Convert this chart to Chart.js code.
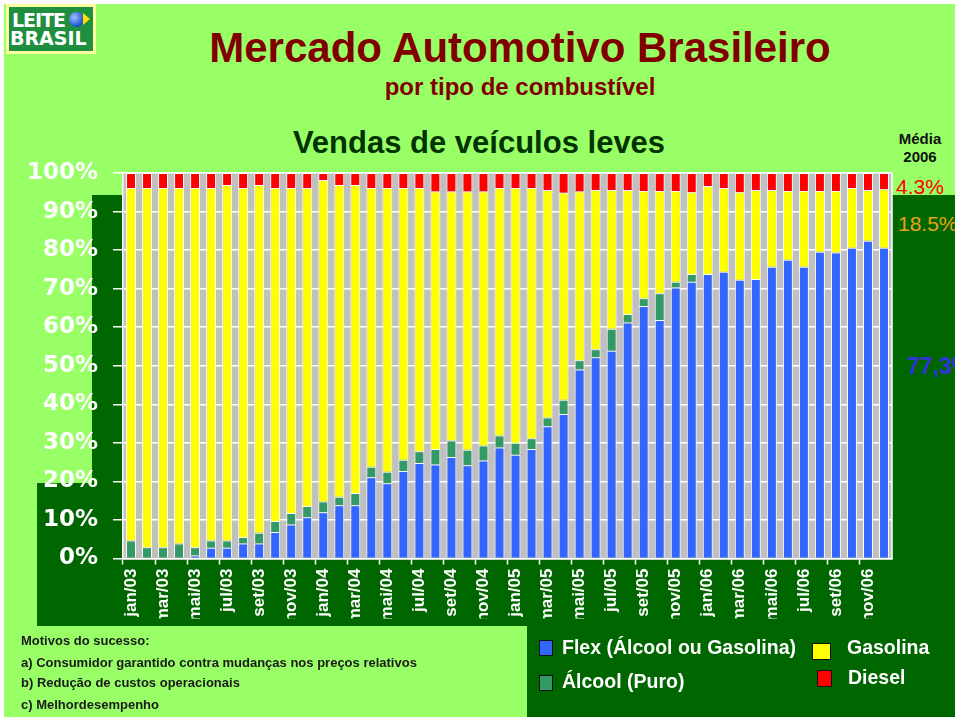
<!DOCTYPE html>
<html><head><meta charset="utf-8">
<script src="https://cdn.jsdelivr.net/npm/chart.js@4/dist/chart.umd.min.js"></script>
<style>
html,body{margin:0;padding:0;background:#fff;}
#page{position:relative;width:959px;height:721px;overflow:hidden;background:#fff;font-family:"Liberation Sans",Arial,sans-serif;}
#clip{position:absolute;left:0;top:0;width:955px;height:717px;overflow:hidden;}
.a{position:absolute;white-space:nowrap;line-height:1;}
.c{transform:translateX(-50%);}
.sq{position:absolute;border:1px solid #111;box-sizing:border-box;}
.logo{font-family:"DejaVu Sans",Verdana,sans-serif;font-weight:bold;font-size:19px;color:#fff;}
canvas{position:absolute;left:0;top:0;}
</style></head>
<body>
<div id="page"><div id="clip">
  <div class="a" style="left:4px;top:4px;width:951px;height:713px;background:#99ff66"></div>
  <div class="a" style="left:92px;top:195px;width:863px;height:431px;background:#006600"></div>
  <div class="a" style="left:37px;top:483px;width:55px;height:143px;background:#006600"></div>
  <div class="a" style="left:527px;top:626px;width:428px;height:91px;background:#006600"></div>

  <div class="a" style="left:6px;top:4px;width:90px;height:50px;background:#1f8f3f;border:3px solid #ffffa0;box-sizing:border-box">
    <div class="a logo" style="left:3px;top:4px;letter-spacing:-1px">LEITE</div>
    <div class="a" style="left:60px;top:5px;width:15px;height:15px;border-radius:50%;background:radial-gradient(circle at 35% 35%,#9cc0ff,#1a4fd0 70%)"></div>
    <div class="a" style="left:74px;top:6px;width:0;height:0;border-top:6px solid transparent;border-bottom:6px solid transparent;border-left:7px solid #ffe000"></div>
    <div class="a logo" style="left:1px;top:22px">BRASIL</div>
  </div>

  <div class="a c" style="left:520px;top:27px;font-size:42px;font-weight:bold;color:#800000">Mercado Automotivo Brasileiro</div>
  <div class="a c" style="left:520px;top:75px;font-size:24px;font-weight:bold;color:#800000">por tipo de combustível</div>
  <div class="a c" style="left:479px;top:127px;font-size:31px;font-weight:bold;color:#003300">Vendas de veículos leves</div>

  <div class="a c" style="left:920px;top:131px;font-size:15px;font-weight:bold;color:#111">Média</div>
  <div class="a c" style="left:920px;top:149px;font-size:15px;font-weight:bold;color:#111">2006</div>
  <div class="a c" style="left:920px;top:176px;font-size:21px;color:#ff0000">4.3%</div>
  <div class="a" style="left:898px;top:213px;font-size:21px;color:#e8a317">18.5%</div>
  <div class="a" style="left:907px;top:355px;font-size:23px;font-weight:bold;color:#3333dd">77,3%</div>

  <canvas id="chart" width="959" height="721"></canvas>

  <div class="a" style="left:21px;top:634px;font-size:13px;font-weight:bold;color:#1a1a1a">Motivos do sucesso:</div>
  <div class="a" style="left:21px;top:656px;font-size:13px;font-weight:bold;color:#1a1a1a">a) Consumidor garantido contra mudanças nos preços relativos</div>
  <div class="a" style="left:21px;top:676px;font-size:13px;font-weight:bold;color:#1a1a1a">b) Redução de custos operacionais</div>
  <div class="a" style="left:21px;top:698px;font-size:13px;font-weight:bold;color:#1a1a1a">c) Melhordesempenho</div>

  <div class="sq" style="left:539px;top:640px;width:14px;height:16px;background:#3366ff"></div>
  <div class="a" style="left:562px;top:638px;font-size:19.5px;font-weight:bold;color:#fff">Flex (Álcool ou Gasolina)</div>
  <div class="sq" style="left:539px;top:675px;width:14px;height:16px;background:#339966"></div>
  <div class="a" style="left:562px;top:672px;font-size:19.5px;font-weight:bold;color:#fff">Álcool (Puro)</div>
  <div class="sq" style="left:812px;top:643px;width:19px;height:17px;background:#ffff00"></div>
  <div class="a" style="left:847px;top:638px;font-size:19.5px;font-weight:bold;color:#fff">Gasolina</div>
  <div class="sq" style="left:817px;top:670px;width:15px;height:17px;background:#ff0000"></div>
  <div class="a" style="left:848px;top:668px;font-size:19.5px;font-weight:bold;color:#fff">Diesel</div>
</div></div>
<script>
const months = ['jan/03','fev/03','mar/03','abr/03','mai/03','jun/03','jul/03','ago/03','set/03','out/03','nov/03','dez/03',
  'jan/04','fev/04','mar/04','abr/04','mai/04','jun/04','jul/04','ago/04','set/04','out/04','nov/04','dez/04',
  'jan/05','fev/05','mar/05','abr/05','mai/05','jun/05','jul/05','ago/05','set/05','out/05','nov/05','dez/05',
  'jan/06','fev/06','mar/06','abr/06','mai/06','jun/06','jul/06','ago/06','set/06','out/06','nov/06','dez/06'];
const flex = [0,0,0,0,0.8,2.8,2.8,3.9,3.9,6.9,8.8,10.7,
  12.0,13.8,13.8,21.1,19.5,22.7,24.8,24.4,26.3,24.2,25.4,28.8,
  26.9,28.4,34.3,37.5,49.0,52.2,53.9,61.2,65.5,61.9,70.3,71.8,
  73.8,74.4,72.3,72.5,75.7,77.5,75.7,79.6,79.4,80.6,82.4,80.6];
const alcool = [4.7,2.9,2.9,3.9,2.1,1.9,1.9,1.7,2.8,2.8,3.0,2.9,
  2.8,2.2,3.2,2.7,3.0,2.9,3.0,4.0,4.3,4.0,3.9,3.1,
  3.1,2.8,2.3,3.7,2.4,2.1,5.7,2.2,2.0,6.9,1.5,2.0,
  0,0,0,0,0,0,0,0,0,0,0,0];
const gasolina = [91.4,93.2,93.2,92.2,93.2,91.4,92.2,90.5,90.2,86.4,84.3,82.5,
  83.4,80.9,79.9,72.3,73.6,70.5,68.3,66.8,64.6,67.0,65.9,64.2,
  66.1,64.9,59.0,53.7,43.8,41.3,36.0,32.2,27.8,26.5,23.5,21.2,
  22.8,21.7,22.7,23.1,19.9,17.8,19.6,15.7,15.9,15.5,13.2,15.2];
const diesel = [3.9,3.9,3.9,3.9,3.9,3.9,3.1,3.9,3.1,3.9,3.9,3.9,
  1.8,3.1,3.1,3.9,3.9,3.9,3.9,4.8,4.8,4.8,4.8,3.9,
  3.9,3.9,4.4,5.1,4.8,4.4,4.4,4.4,4.7,4.7,4.7,5.0,
  3.4,3.9,5.0,4.4,4.4,4.7,4.7,4.7,4.7,3.9,4.4,4.2];
const yTicks = [0,10,20,30,40,50,60,70,80,90,100];

const plotBg = {
  id:'plotBg',
  beforeDraw(chart){
    const {ctx, chartArea:a} = chart;
    ctx.save(); ctx.fillStyle='#c0c0c0';
    ctx.fillRect(a.left,a.top,a.right-a.left,a.bottom-a.top); ctx.restore();
  },
  beforeDatasetsDraw(chart){
    const {ctx, chartArea:a} = chart;
    ctx.save(); ctx.strokeStyle='#fff'; ctx.lineWidth=1.5;
    ctx.beginPath(); ctx.moveTo(a.right,a.top); ctx.lineTo(a.right,a.bottom); ctx.stroke(); ctx.restore();
  }
};

const ds = (label, data, color) => ({label, data, backgroundColor:color, borderColor:'#ffffff', borderWidth:1,
  barPercentage:0.62, categoryPercentage:1.0});

new Chart(document.getElementById('chart'), {
  type:'bar',
  data:{labels:months, datasets:[
    ds('Flex (Álcool ou Gasolina)', flex, '#3366ff'),
    ds('Álcool (Puro)', alcool, '#339966'),
    ds('Gasolina', gasolina, '#ffff00'),
    ds('Diesel', diesel, '#ff0000')
  ]},
  options:{
    responsive:false, animation:false,
    layout:{padding:{left:0, top:173, right:67, bottom:102.5}},
    plugins:{legend:{display:false}, tooltip:{enabled:false}},
    scales:{
      x:{stacked:true, offset:true,
        grid:{display:true, drawOnChartArea:false, offset:true, tickLength:6, tickWidth:1.5,
          tickColor:(c)=> (c.index%2===0 ? '#ffffff' : 'rgba(0,0,0,0)')},
        border:{display:true, color:'#ffffff', width:1.5},
        ticks:{autoSkip:false, maxRotation:90, minRotation:90, color:'#ffffff', padding:4,
          font:{family:'"Liberation Sans", Arial, sans-serif', weight:'bold', size:17},
          callback:(v,i)=> (i%2===0 ? months[i] : '')},
        afterFit:(s)=>{ s.height = 60; }
      },
      y:{stacked:true, min:0, max:100,
        afterBuildTicks:(s)=>{ s.ticks = yTicks.map(v=>({value:v})); },
        ticks:{color:'#ffffff', padding:15, callback:(v)=> v+'%',
          font:{family:'"DejaVu Sans", Verdana, sans-serif', weight:'bold', size:23}},
        grid:{color:'#ffffff', lineWidth:1.5, tickLength:10, tickColor:'#ffffff'},
        border:{display:true, color:'#ffffff', width:1.5},
        afterFit:(s)=>{ s.width = 123; }
      }
    }
  },
  plugins:[plotBg]
});
</script>
</body></html>
